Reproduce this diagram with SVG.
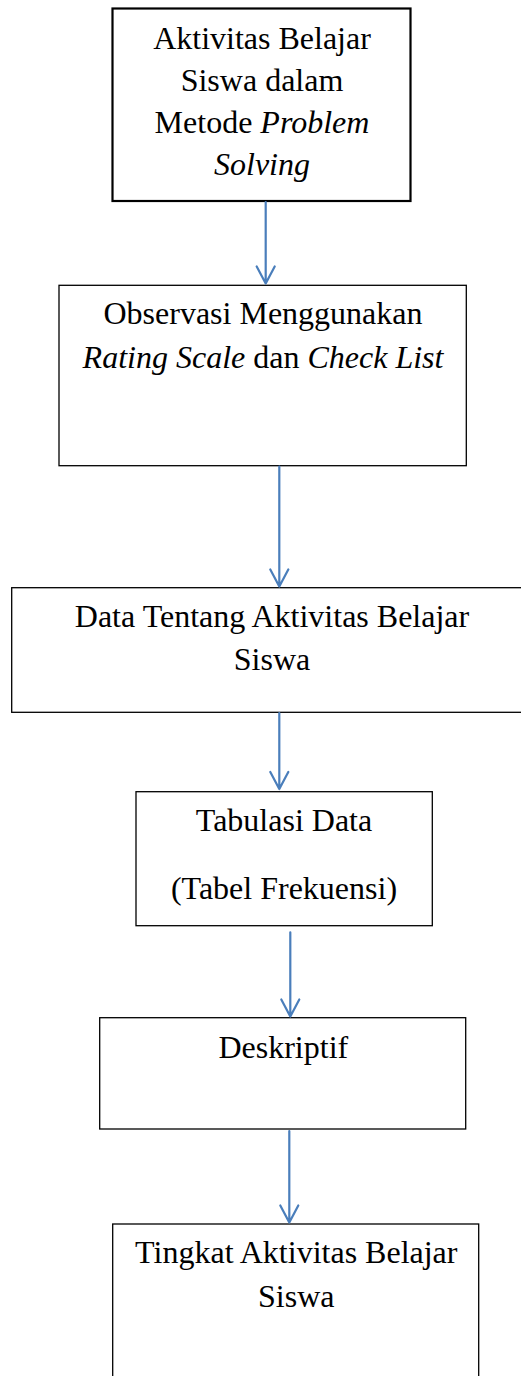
<svg xmlns="http://www.w3.org/2000/svg" width="521" height="1376" viewBox="0 0 521 1376">
<style>
.box{fill:#fff;stroke:#000;stroke-width:1.3}
.thick{stroke-width:2.2}
text{font-family:"Liberation Serif","Times New Roman",serif;font-size:32px;fill:#000;text-anchor:middle}
.i{font-style:italic}
.c{stroke:#4a7ebb;stroke-width:2.2;fill:none;stroke-linecap:round;stroke-linejoin:round}
</style>
<rect width="521" height="1376" fill="#fff"/>
<g id="n1">
<rect class="box thick" x="112.5" y="8.5" width="298" height="192.5"/>
<text x="262" y="49.3">Aktivitas Belajar</text>
<text x="262" y="90.7">Siswa dalam</text>
<text x="262" y="132.7">Metode <tspan class="i">Problem</tspan></text>
<text x="262" y="175" class="i">Solving</text>
</g>
<g id="n2">
<rect class="box" x="59" y="285.3" width="407.3" height="180.4"/>
<text x="263" y="324.3">Observasi Menggunakan</text>
<text x="263" y="367.7"><tspan class="i">Rating Scale</tspan> dan <tspan class="i">Check List</tspan></text>
</g>
<g id="n3">
<rect class="box" x="11.7" y="587.7" width="520" height="124.6"/>
<text x="272" y="626.7">Data Tentang Aktivitas Belajar</text>
<text x="272" y="670">Siswa</text>
</g>
<g id="n4">
<rect class="box" x="136" y="791.7" width="296.3" height="134"/>
<text x="284" y="830.7">Tabulasi Data</text>
<text x="284" y="899.3">(Tabel Frekuensi)</text>
</g>
<g id="n5">
<rect class="box" x="99.7" y="1017.7" width="366" height="111.3"/>
<text x="283.3" y="1057.7">Deskriptif</text>
</g>
<g id="n6">
<rect class="box" x="112.7" y="1224" width="366" height="170"/>
<text x="296.3" y="1263.3">Tingkat Aktivitas Belajar</text>
<text x="296.3" y="1306.7">Siswa</text>
</g>
<g id="connectors">
<path class="c" d="M265.7 202V283.5M256.7 266.5L265.7 283.5L274.7 266.5"/>
<path class="c" d="M279.3 466.5V586.5M270.3 569.5L279.3 586.5L288.3 569.5"/>
<path class="c" d="M279.3 713V789M270.3 772L279.3 789L288.3 772"/>
<path class="c" d="M290.3 932.3V1016.5M281.3 999.5L290.3 1016.5L299.3 999.5"/>
<path class="c" d="M289.3 1131V1222.5M280.3 1205.5L289.3 1222.5L298.3 1205.5"/>
</g>
</svg>
